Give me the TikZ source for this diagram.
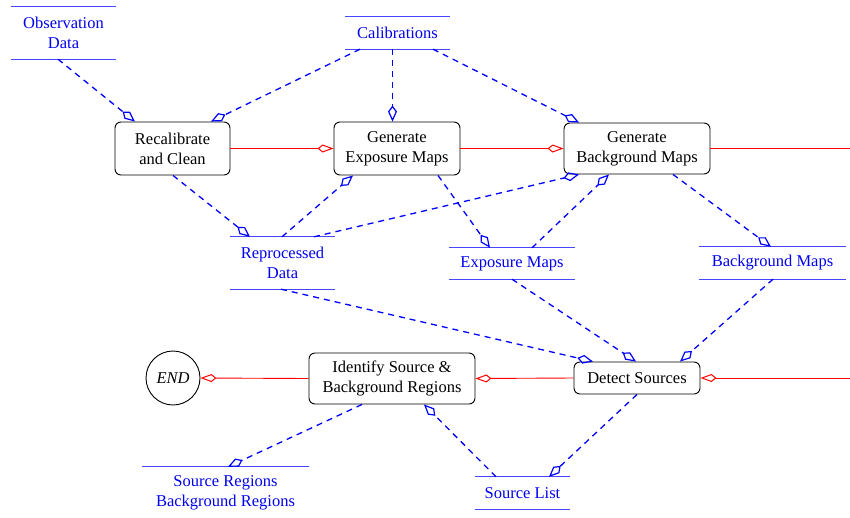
\documentclass[tikz,border=0pt]{standalone}
\usepackage{fontspec}
\setmainfont{Liberation Serif}
\usetikzlibrary{arrows.meta}
\definecolor{storeblue}{RGB}{0,0,240}
\definecolor{storeline}{RGB}{70,70,255}
\definecolor{flowred}{RGB}{255,0,0}
\begin{document}
\begin{tikzpicture}[x=1pt,y=-1pt,
  every node/.style={font=\fontsize{16.5}{20}\selectfont, inner sep=0pt, align=center},
  proc/.style={draw=black, line width=0.9pt, rounded corners=6pt},
  store/.style={text=storeblue},
  sline/.style={draw=storeline, line width=1pt},
  endnode/.style={draw=black, circle, line width=0.9pt, minimum size=54pt, font=\fontsize{16.5}{20}\selectfont\itshape},
  dataflow/.style={draw=blue, line width=1.3pt, dash pattern=on 6pt off 5pt,
    -{Kite[open, length=16pt, width=9pt, inset=6pt, line width=1.2pt, sep=0pt]}},
  ctrlflow/.style={draw=flowred, line width=0.9pt,
    -{Kite[open, length=16pt, width=8pt, inset=5pt, line width=1pt]}},
  plainred/.style={draw=flowred, line width=0.9pt}
]
\useasboundingbox (0,0) rectangle (850,517);

% data stores
\node[store, minimum width=105pt, minimum height=52pt] (obs) at (63.5,33) {Observation\\Data};
\node[store, minimum width=105pt, minimum height=32pt] (cal) at (397.5,33) {Calibrations};
\node[store, minimum width=105pt, minimum height=52pt] (rep) at (282.5,263) {Reprocessed\\Data};
\node[store, minimum width=126pt, minimum height=31pt] (expm) at (512,263.5) {Exposure Maps};
\node[store, minimum width=147pt, minimum height=32pt] (bgm) at (772.5,263) {Background Maps};
\node[store, minimum width=167pt, minimum height=52pt] (srcreg) at (225.5,493) {Source Regions\\Background Regions};
\node[store, minimum width=95pt, minimum height=32pt] (srclist) at (522.5,493) {Source List};

\foreach \n in {obs,cal,rep,expm,bgm,srclist}{
  \draw[sline] (\n.north west) -- (\n.north east);
  \draw[sline] (\n.south west) -- (\n.south east);
}
\draw[sline] (srcreg.north west) -- (srcreg.north east);

% processes
\node[proc, minimum width=115pt, minimum height=53pt] (recal) at (172.5,148.5) {Recalibrate\\and Clean};
\node[proc, minimum width=126pt, minimum height=53pt] (genexp) at (397,148.5) {Generate\\Exposure Maps};
\node[proc, minimum width=146pt, minimum height=51pt] (genbg) at (637,148.5) {Generate\\Background Maps};
\node[proc, minimum width=166pt, minimum height=51pt] (ident) at (392,378.5) {Identify Source \&\\Background Regions};
\node[proc, minimum width=126pt, minimum height=32pt] (detect) at (637,378) {Detect Sources};
\node[endnode] (end) at (173,378) {END};

\coordinate (outR) at (850,148.5);
\coordinate (inR) at (850,378);

% control flow (red)
\draw[ctrlflow] (recal.east) -- (genexp.west);
\draw[ctrlflow] (genexp.east) -- (genbg.west);
\draw[plainred] (genbg.east) -- (outR);
\draw[ctrlflow] (inR) -- (detect.east);
\draw[ctrlflow] (detect.west) -- (ident.east);
\draw[ctrlflow] (ident.west) -- (end.east);

% data flow (blue dashed)
\draw[dataflow] ([xshift=-5.5pt]obs.south) -- ([xshift=-37.5pt]recal.north);
\draw[dataflow] ([xshift=-37.5pt]cal.south) -- ([xshift=38.5pt]recal.north);
\draw[dataflow] ([xshift=-5pt]cal.south) -- ([xshift=-4.5pt]genexp.north);
\draw[dataflow] ([xshift=35.5pt]cal.south) -- ([xshift=-58pt]genbg.north);
\draw[dataflow] ([xshift=0.5pt]recal.south) -- ([xshift=-32.5pt]rep.north);
\draw[dataflow] ([xshift=-0.5pt]rep.north) -- ([xshift=-44pt]genexp.south);
\draw[dataflow] ([xshift=31.5pt]rep.north) -- ([xshift=-58pt]genbg.south);
\draw[dataflow] ([xshift=41pt]genexp.south) -- ([xshift=-22pt]expm.north);
\draw[dataflow] ([xshift=20pt]expm.north) -- ([xshift=-28pt]genbg.south);
\draw[dataflow] ([xshift=36pt]genbg.south) -- ([xshift=-1.5pt]bgm.north);
\draw[dataflow] ([xshift=-1.5pt]rep.south) -- ([xshift=-44pt]detect.north);
\draw[dataflow] (expm.south) -- ([xshift=-1pt]detect.north);
\draw[dataflow] ([xshift=0.5pt]bgm.south) -- ([xshift=43pt]detect.north);
\draw[dataflow] ([xshift=-30pt]ident.south) -- ([xshift=2.5pt]srcreg.north);
\draw[dataflow] ([xshift=-26.5pt]srclist.north) -- ([xshift=32pt]ident.south);
\draw[dataflow] (detect.south) -- ([xshift=26.5pt]srclist.north);
\end{tikzpicture}
\end{document}
